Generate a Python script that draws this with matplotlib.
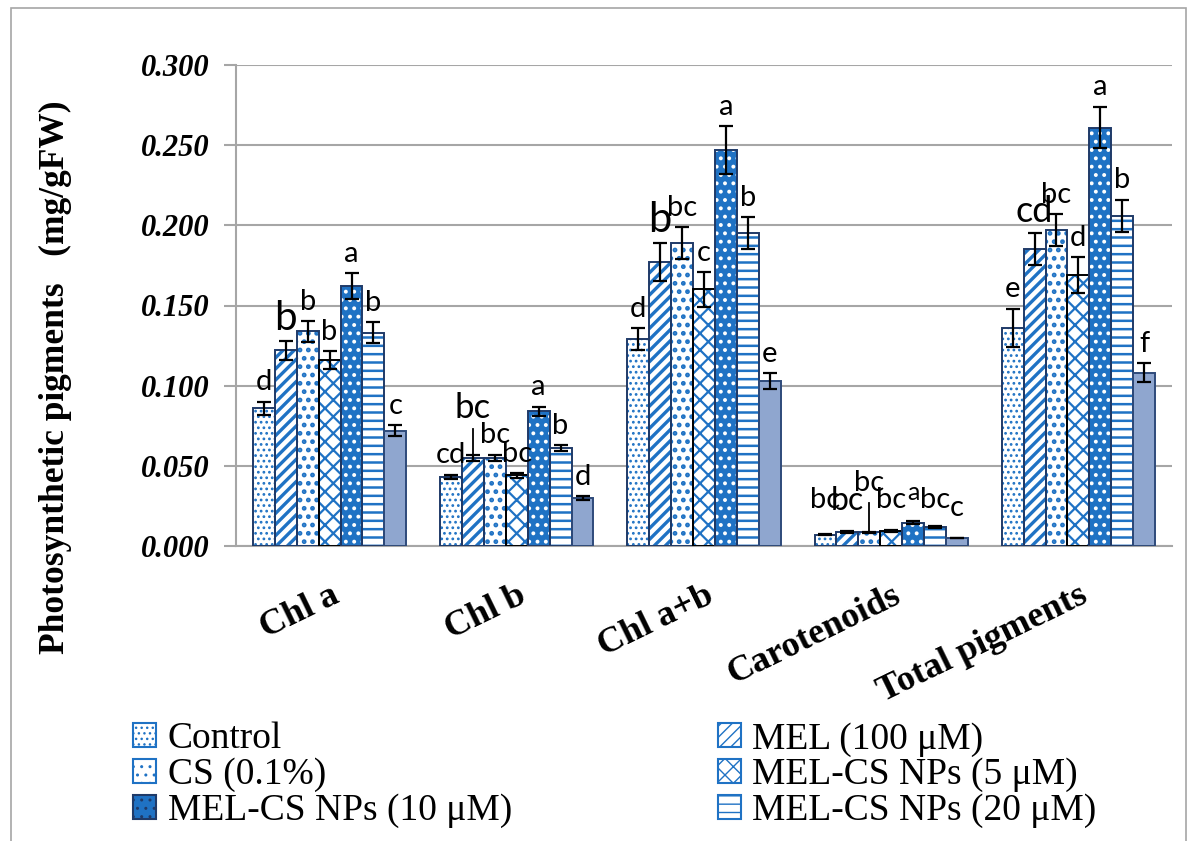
import numpy as np
import matplotlib
matplotlib.use("Agg")
import matplotlib.pyplot as plt
from matplotlib.patches import Patch, Rectangle

# data
categories = ["Chl a", "Chl b", "Chl a+b", "Carotenoids", "Total pigments"]
series_names = ["Control", "MEL (100 \u03bcM)", "CS (0.1%)", "MEL-CS NPs (5 \u03bcM)",
                "MEL-CS NPs (10 \u03bcM)", "MEL-CS NPs (20 \u03bcM)", None]

control = [0.086, 0.043, 0.129, 0.0070, 0.136]
mel = [0.122, 0.055, 0.177, 0.0087, 0.185]
cs = [0.134, 0.055, 0.189, 0.0085, 0.197]
melcs5 = [0.116, 0.044, 0.160, 0.0095, 0.169]
melcs10 = [0.162, 0.084, 0.247, 0.0145, 0.261]
melcs20 = [0.133, 0.061, 0.195, 0.0120, 0.206]
extra = [0.072, 0.030, 0.103, 0.0050, 0.108]

control_err = [0.004, 0.0015, 0.007, 0.0004, 0.012]
mel_err = [0.006, 0.002, 0.012, 0.0005, 0.010]
cs_err = [0.0065, 0.002, 0.010, 0.0005, 0.010]
melcs5_err = [0.0057, 0.0015, 0.011, 0.0005, 0.011]
melcs10_err = [0.008, 0.003, 0.015, 0.0008, 0.013]
melcs20_err = [0.0066, 0.002, 0.010, 0.0006, 0.010]
extra_err = [0.0036, 0.001, 0.005, 0.0003, 0.006]

control_sig = ["d", "cd", "d", "bc", "e"]
mel_sig = ["b", "bc", "b", "bc", "cd"]
cs_sig = ["b", "bc", "bc", "bc", "bc"]
melcs5_sig = ["b", "bc", "c", "bc", "d"]
melcs10_sig = ["a", "a", "a", "a", "a"]
melcs20_sig = ["b", "b", "b", "bc", "b"]
extra_sig = ["c", "d", "e", "c", "f"]

values = [control, mel, cs, melcs5, melcs10, melcs20, extra]
errors = [control_err, mel_err, cs_err, melcs5_err, melcs10_err, melcs20_err, extra_err]
sigs = [control_sig, mel_sig, cs_sig, melcs5_sig, melcs10_sig, melcs20_sig, extra_sig]

BLUE = "#1F72C4"
NAVY = "#1F3A68"
# (face, hatch colour, hatch, outline, hatch linewidth)
styles = [
    ("white", BLUE, "...", NAVY, 1.2),
    ("white", BLUE, "///", NAVY, 2.4),
    ("white", BLUE, "..", NAVY, 2.2),
    ("white", BLUE, "xx", "black", 1.6),
    (BLUE, "white", "..", NAVY, 1.6),
    ("white", BLUE, "--", NAVY, 1.8),
    ("#8FA6CF", "#8FA6CF", "", "#2E4A7A", 1.0),
]

# letter placement tweaks (category, series) -> baseline / font size
label_y = {(1, 1): 0.080, (3, 0): 0.0237, (3, 1): 0.0225, (3, 2): 0.034, (3, 3): 0.0237,
           (3, 4): 0.0287, (3, 5): 0.0237, (3, 6): 0.019}
leaders = [(1, 1), (3, 2)]
big_labels = {(0, 1): 29, (2, 1): 30, (4, 1): 26, (1, 1): 25, (3, 1): 23, (3, 4): 18}

SERIF = "Liberation Serif"

fig = plt.figure(figsize=(11.9, 8.41), dpi=100)
ax = fig.add_axes([236 / 1190, 1 - 546 / 841, (1172 - 236) / 1190, 481 / 841])

x = np.arange(len(categories))
width = 0.117
offsets = (np.arange(7) - 3) * width

for i in range(7):
    face, hcol, hatch, edge, hlw = styles[i]
    with plt.rc_context({"hatch.linewidth": hlw}):
        ax.bar(x + offsets[i], values[i], width, color=face, edgecolor=hcol,
               hatch=hatch, linewidth=0, zorder=2)
    ax.bar(x + offsets[i], values[i], width, fill=False, edgecolor=edge,
           linewidth=1.4, zorder=3)
    ax.errorbar(x + offsets[i], values[i], yerr=errors[i], fmt="none", ecolor="black",
                elinewidth=1.6, capsize=5, capthick=1.6, zorder=4)
    for j in range(len(categories)):
        top = values[i][j] + errors[i][j]
        y = label_y.get((j, i), top + 0.007)
        ax.text(x[j] + offsets[i], y, sigs[i][j], ha="center", va="baseline",
                fontsize=big_labels.get((j, i), 21), family="Lato", zorder=5)
        if (j, i) in leaders:
            ax.plot([x[j] + offsets[i]] * 2, [top, y - 0.007], color="black",
                    lw=1.3, zorder=5)

ax.set_xlim(-0.5, 4.5)
ax.set_ylim(0, 0.3)
ax.set_yticks(np.arange(0, 0.301, 0.05))
ax.set_yticklabels([f"{v:.3f}" for v in np.arange(0, 0.301, 0.05)],
                   family=SERIF, fontsize=22, fontweight="bold", style="italic")
ax.yaxis.grid(True, color="#A6A6A6", linewidth=1.5, zorder=0)
ax.set_axisbelow(True)
ax.tick_params(axis="y", direction="out", length=9, width=1.5, color="#A6A6A6", pad=10)
ax.tick_params(axis="x", length=0, pad=24)
ax.set_xticks(x)
ax.set_xticklabels(categories, family=SERIF, fontsize=26, fontweight="bold",
                   rotation=26, ha="right", rotation_mode="anchor")
for side in ["top", "right"]:
    ax.spines[side].set_visible(False)
for side in ["left", "bottom"]:
    ax.spines[side].set_color("#A6A6A6")
    ax.spines[side].set_linewidth(1.5)

fig.text(55 / 1190, 1 - 377 / 841, "Photosynthetic pigments   (mg/gFW)", rotation=90,
         ha="center", va="center", family=SERIF, fontsize=25.5, fontweight="bold")

# legend is filled row by row in the reference
handles = []
for i in range(6):
    face, hcol, hatch, edge, hlw = styles[i]
    handles.append(Patch(facecolor=face, edgecolor=hcol if face == "white" else NAVY,
                         hatch=hatch, linewidth=1.5))
order = [0, 2, 4, 1, 3, 5]
fig.legend([handles[k] for k in order], [series_names[k] for k in order],
           loc="upper left", bbox_to_anchor=(133 / 1190, 1 - 722 / 841),
           ncol=2, frameon=False, prop={"family": SERIF, "size": 27},
           handlelength=0.62, handleheight=0.62, handletextpad=0.3, labelspacing=0.03,
           columnspacing=5.5, borderpad=0, borderaxespad=0)

fig.patches.append(Rectangle((11 / 1190, -0.05), (1186 - 11) / 1190, 1.05 - 8 / 841,
                             transform=fig.transFigure, fill=False, edgecolor="#A6A6A6",
                             linewidth=1.2))

fig.savefig("out.png", dpi=100)
